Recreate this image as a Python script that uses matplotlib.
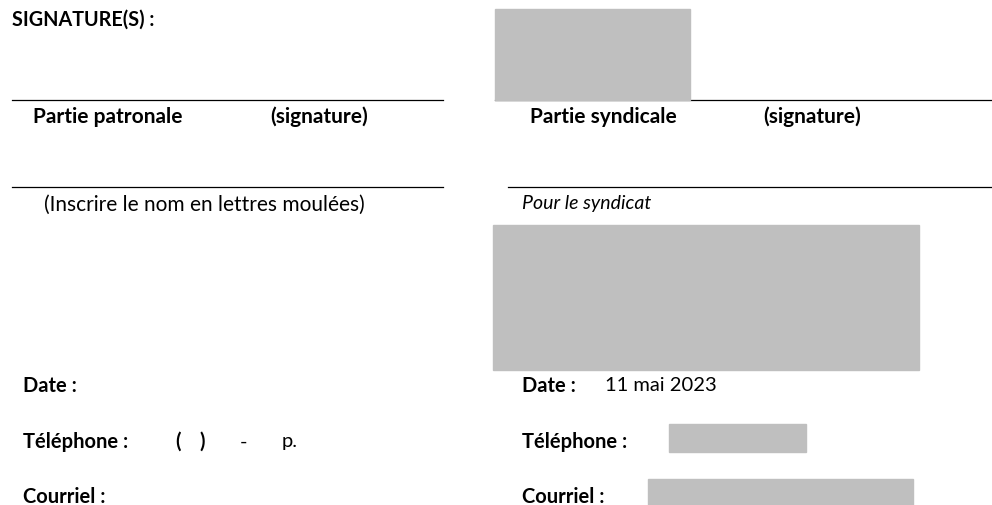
import matplotlib.pyplot as plt
from matplotlib.patches import Rectangle

plt.rcParams['font.family'] = ['Lato', 'DejaVu Sans']

# texts of the form
titre = 'SIGNATURE(S) :'
parties = ['Partie patronale', 'Partie syndicale']
signature = '(signature)'
nom_left = '(Inscrire le nom en lettres moulées)'
nom_right = 'Pour le syndicat'
champs = ['Date :', 'Téléphone :', 'Courriel :']
date_right = '11 mai 2023'
tel_left = ['(', ')', '-', 'p.']

W, H = 992, 506
fig = plt.figure(figsize=(W / 100, H / 100), dpi=100)
ax = fig.add_axes([0, 0, 1, 1])
ax.set_xlim(0, W)
ax.set_ylim(H, 0)
ax.axis('off')

gris = '#bfbfbf'
fs = 14.5

ax.text(12, 20, titre, fontsize=fs - 0.3, fontweight='bold', va='center')

# signature lines
ax.plot([12, 443], [100.5, 100.5], color='black', lw=0.9)
ax.plot([495, 992], [100.5, 100.5], color='black', lw=0.9)
ax.plot([12, 443], [187.5, 187.5], color='black', lw=0.9)
ax.plot([508, 992], [187.5, 187.5], color='black', lw=0.9)

# masked zones
ax.add_patch(Rectangle((495, 10), 195, 91, color=gris, zorder=3))
ax.add_patch(Rectangle((493, 226), 426, 145, color=gris, zorder=3))
ax.add_patch(Rectangle((669, 425), 137, 28, color=gris, zorder=3))
ax.add_patch(Rectangle((648, 480), 265, 26, color=gris, zorder=3))

ax.text(33, 117, parties[0], fontsize=15, fontweight='bold', va='center')
ax.text(270, 117, signature, fontsize=15, fontweight='bold', va='center')
ax.text(530, 117, parties[1], fontsize=15, fontweight='bold', va='center')
ax.text(763, 117, signature, fontsize=15, fontweight='bold', va='center')

ax.text(44, 205, nom_left, fontsize=fs + 0.5, va='center')
ax.text(522, 204, nom_right, fontsize=14, style='italic', va='center')

ys = [386, 442, 497]
for nom, y in zip(champs, ys):
    ax.text(23, y, nom, fontsize=fs, fontweight='bold', va='center')
    ax.text(522, y, nom, fontsize=fs, fontweight='bold', va='center')

ax.text(605, 386, date_right, fontsize=fs, va='center')
for s, x in zip(tel_left, [175, 199, 240, 282]):
    ax.text(x, 442, s, fontsize=fs, fontweight='bold' if s in '()' else 'normal', va='center')

fig.savefig('out.png', dpi=100, facecolor='white')
